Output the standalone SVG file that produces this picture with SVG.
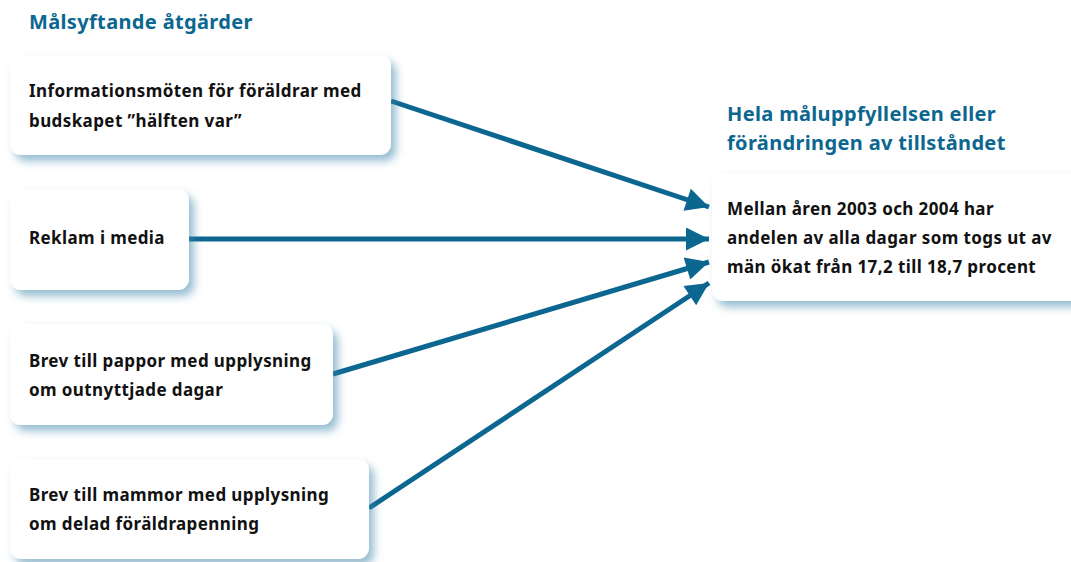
<svg xmlns="http://www.w3.org/2000/svg" width="1071" height="562" viewBox="0 0 1071 562">
<defs>
<filter id="sh" x="-10%" y="-20%" width="130%" height="150%">
<feDropShadow dx="5" dy="6" stdDeviation="4.5" flood-color="#3f87ab" flood-opacity="0.55"/>
</filter>
<marker id="ah" viewBox="0 0 10 10" refX="10" refY="5" markerWidth="5.2" markerHeight="4.6" markerUnits="strokeWidth" orient="auto">
<path d="M0,0 L10,5 L0,10 z" fill="#0b6690"/>
</marker>
<style>
.box{fill:#fff;filter:url(#sh)}
.t{font-family:"Noto Sans","Open Sans",sans-serif;font-weight:bold;font-size:17px;letter-spacing:0.4px;fill:#111}
.h{font-family:"Noto Sans","Open Sans",sans-serif;font-weight:bold;font-size:20px;letter-spacing:0.35px;fill:#0b6690}
.c{stroke:#0b6690;stroke-width:5;fill:none;marker-end:url(#ah)}
</style>
</defs>
<rect width="1071" height="562" fill="#fff"/>
<text class="h" x="29" y="29">Målsyftande åtgärder</text>
<g id="connectors">
<line class="c" x1="391" y1="101" x2="709" y2="207"/>
<line class="c" x1="189" y1="239" x2="709" y2="239"/>
<line class="c" x1="333" y1="374" x2="709" y2="262"/>
<line class="c" x1="369" y1="508" x2="709" y2="283"/>
</g>
<g id="n1">
<rect class="box" x="10" y="55" width="381" height="100" rx="11"/>
<text class="t" x="29" y="97">Informationsmöten för föräldrar med</text>
<text class="t" x="29" y="127">budskapet ”hälften var”</text>
</g>
<g id="n2">
<rect class="box" x="10" y="189" width="179" height="101" rx="11"/>
<text class="t" x="29" y="244">Reklam i media</text>
</g>
<g id="n3">
<rect class="box" x="10" y="324" width="323" height="101" rx="11"/>
<text class="t" x="29" y="367">Brev till pappor med upplysning</text>
<text class="t" x="29" y="396">om outnyttjade dagar</text>
</g>
<g id="n4">
<rect class="box" x="10" y="459" width="359" height="100" rx="11"/>
<text class="t" x="29" y="501">Brev till mammor med upplysning</text>
<text class="t" x="29" y="530">om delad föräldrapenning</text>
</g>
<g id="target">
<text class="h" x="727" y="121">Hela måluppfyllelsen eller</text>
<text class="h" x="727" y="150">förändringen av tillståndet</text>
<rect class="box" x="712" y="173" width="380" height="128" rx="11"/>
<text class="t" x="727" y="215">Mellan åren 2003 och 2004 har</text>
<text class="t" x="727" y="244">andelen av alla dagar som togs ut av</text>
<text class="t" x="727" y="273">män ökat från 17,2 till 18,7 procent</text>
</g>
</svg>
